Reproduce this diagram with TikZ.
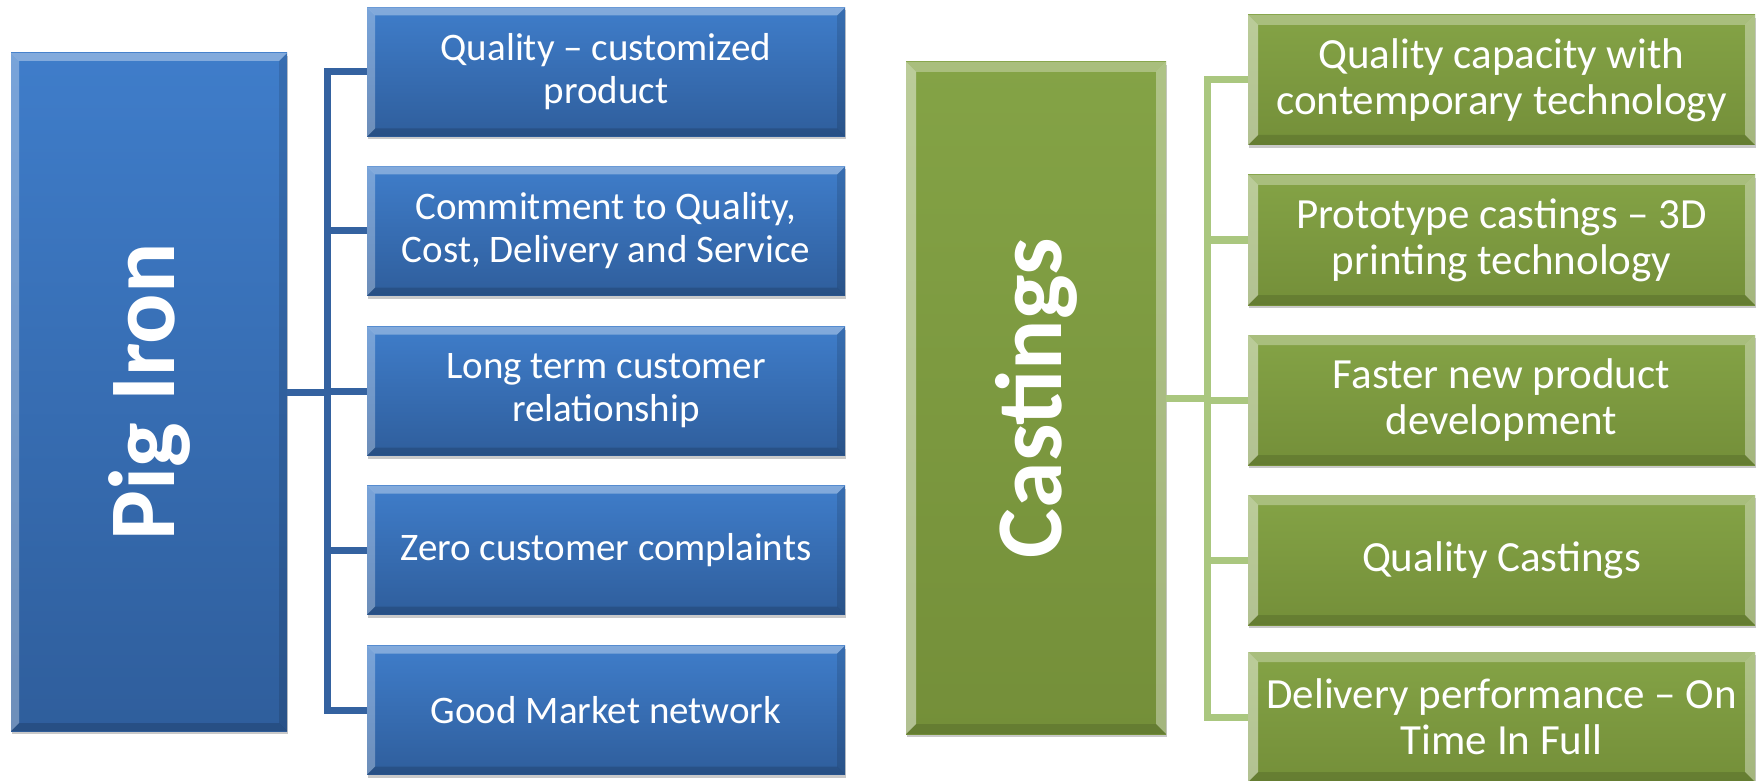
\documentclass[tikz,border=0pt]{standalone}
\usepackage{fontspec}
\setmainfont{Carlito}
\usetikzlibrary{calc,shadows}

\definecolor{pigtop}{HTML}{3F7DCA}
\definecolor{pigbot}{HTML}{2F5E9C}
\definecolor{pigline}{HTML}{3462A0}
\definecolor{casttop}{HTML}{84A346}
\definecolor{castbot}{HTML}{748F39}
\definecolor{castline}{HTML}{AAC77F}

\tikzset{
  bluebev/.style={path picture={
    \path (path picture bounding box.north west) coordinate (bnw)
          (path picture bounding box.north east) coordinate (bne)
          (path picture bounding box.south west) coordinate (bsw)
          (path picture bounding box.south east) coordinate (bse);
    \fill[white,opacity=.35] (bnw) -- (bne) -- ([shift={(-4pt,-4pt)}]bne) -- ([shift={(4pt,-4pt)}]bnw) -- cycle;
    \fill[white,opacity=.3] (bnw) -- (bsw) -- ([shift={(4pt,4pt)}]bsw) -- ([shift={(4pt,-4pt)}]bnw) -- cycle;
    \fill[black,opacity=.12] (bne) -- (bse) -- ([shift={(-4pt,4pt)}]bse) -- ([shift={(-4pt,-4pt)}]bne) -- cycle;
    \fill[black,opacity=.15] (bsw) -- (bse) -- ([shift={(-4pt,4pt)}]bse) -- ([shift={(4pt,4pt)}]bsw) -- cycle;
  }},
  greenbev/.style={path picture={
    \path (path picture bounding box.north west) coordinate (bnw)
          (path picture bounding box.north east) coordinate (bne)
          (path picture bounding box.south west) coordinate (bsw)
          (path picture bounding box.south east) coordinate (bse);
    \fill[white,opacity=.3] (bnw) -- (bne) -- ([shift={(-5pt,-5pt)}]bne) -- ([shift={(5pt,-5pt)}]bnw) -- cycle;
    \fill[white,opacity=.45] (bnw) -- (bsw) -- ([shift={(5pt,5pt)}]bsw) -- ([shift={(5pt,-5pt)}]bnw) -- cycle;
    \fill[white,opacity=.35] (bne) -- (bse) -- ([shift={(-5pt,5pt)}]bse) -- ([shift={(-5pt,-5pt)}]bne) -- cycle;
    \fill[black,opacity=.12] (bsw) -- (bse) -- ([shift={(-5pt,5pt)}]bse) -- ([shift={(5pt,5pt)}]bsw) -- cycle;
  }},
  boxshadow/.style={drop shadow={shadow xshift=.5pt,shadow yshift=-1.5pt,opacity=.3,fill=black!70}},
  pigmain/.style={rectangle,inner sep=0pt,top color=pigtop,bottom color=pigbot,boxshadow,bluebev,
    minimum width=138pt,minimum height=339pt,text=white,font=\fontsize{47}{50}\selectfont\bfseries},
  pigitem/.style={rectangle,inner sep=0pt,top color=pigtop,bottom color=pigbot,boxshadow,bluebev,
    minimum width=239pt,minimum height=64.5pt,text=white,align=center,font=\fontsize{19.5}{21.5}\selectfont},
  castmain/.style={rectangle,inner sep=0pt,top color=casttop,bottom color=castbot,boxshadow,greenbev,
    minimum width=130pt,minimum height=336pt,text=white,font=\fontsize{47}{50}\selectfont\bfseries},
  castitem/.style={rectangle,inner sep=0pt,top color=casttop,bottom color=castbot,boxshadow,greenbev,
    minimum width=253.5pt,minimum height=65pt,text=white,align=center,font=\fontsize{21.5}{23}\selectfont},
  pigwire/.style={draw=pigline,line width=3.5pt},
  castwire/.style={draw=castline,line width=3.5pt}
}

\begin{document}
\begin{tikzpicture}[x=0.5pt,y=-0.5pt]
    \useasboundingbox (0,0) rectangle (1758,781);

    % pig iron side
    \node[pigmain] (pig) at (149,392) {\rotatebox{90}{Pig Iron}};
    \node[pigitem] (p1) at (606,72)  {Quality -- customized\\product};
    \node[pigitem] (p2) at (606,231) {Commitment to Quality,\\Cost, Delivery and Service};
    \node[pigitem] (p3) at (606,391) {Long term customer\\relationship};
    \node[pigitem] (p4) at (606,550) {Zero customer complaints};
    \node[pigitem] (p5) at (606,710) {Good Market network};

    % castings side
    \node[castmain] (cast) at (1036,398) {\rotatebox{90}{Castings}};
    \node[castitem] (c1) at (1501.5,80)  {Quality capacity with\\contemporary technology};
    \node[castitem] (c2) at (1501.5,240) {Prototype castings -- 3D\\printing technology};
    \node[castitem] (c3) at (1501.5,400) {Faster new product\\development};
    \node[castitem] (c4) at (1501.5,560) {Quality Castings};
    \node[castitem] (c5) at (1501.5,717) {Delivery performance -- On\\Time In Full};

    % links
    \foreach \i in {1,...,5} {
        \draw[pigwire] (pig.east) -| ($(pig.east)!.5!(p\i.west)$) |- (p\i.west);
        \draw[castwire] (cast.east) -| ($(cast.east)!.5!(c\i.west)$) |- (c\i.west);
    }
\end{tikzpicture}
\end{document}
